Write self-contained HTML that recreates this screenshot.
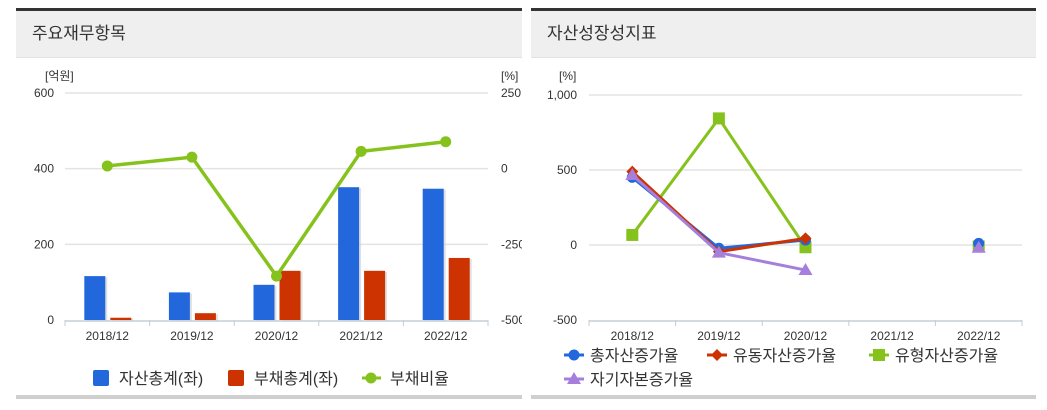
<!DOCTYPE html>
<html><head><meta charset="utf-8">
<style>
body{margin:0;width:1047px;height:410px;background:#fff;overflow:hidden;font-family:"Liberation Sans","Noto Sans CJK KR",sans-serif;}
.panel{position:absolute;top:8px;height:391px;overflow:hidden;}
.bar{position:absolute;left:0;right:0;top:0;height:3px;background:#333;}
.hdr{position:absolute;left:0;right:0;top:3px;height:46px;background:#efefef;border-bottom:1px solid #e2e2e2;font-size:17px;color:#333;line-height:46px;padding-left:16px;}
.foot{position:absolute;left:0;right:0;bottom:0;height:4px;background:#cfcfcf;}
svg{position:absolute;left:0;top:0;}
</style></head><body>
<div class="panel" style="left:16px;width:506px;">
  <div class="bar"></div>
  <div class="hdr">주요재무항목</div>
  <div class="foot"></div>
</div>
<div class="panel" style="left:531px;width:505px;">
  <div class="bar"></div>
  <div class="hdr">자산성장성지표</div>
  <div class="foot"></div>
</div>
<svg id="c1" width="522" height="410"></svg>
<svg id="c2" width="1047" height="410"></svg>
<script>
const cats = ["2018/12","2019/12","2020/12","2021/12","2022/12"];
const assets = [116,73,93,351,347];
const debts = [6,18,130,130,164];
const debtRatio = [9,38,-355,57,89];
const leftTicks = [0,200,400,600];
const rightTicks = [-500,-250,0,250];
const totalGrowth = [451,-22,33,null,11];
const currentGrowth = [489,-44,44,null,null];
const tangibleGrowth = [67,844,-15,null,-10];
const equityGrowth = [467,-51,-167,null,-18];
const growthTicks = [-500,0,500,1000];
const growthTickLabels = ["-500","0","500","1,000"];

const NS="http://www.w3.org/2000/svg";
function mk(svg,tag,attrs,name,text){const e=document.createElementNS(NS,tag);for(const k in attrs)e.setAttribute(k,attrs[k]);


if(text!==undefined)e.textContent=text;svg.appendChild(e);return e;}

// chart 1
const s1=document.getElementById('c1');
const x0=65,x1=488,yTop=93,yBot=320;
const band=(x1-x0)/cats.length;
const cx=i=>x0+band*(i+0.5);
const yL=v=>yBot-(v-0)/(600-0)*(yBot-yTop);
const yR=v=>yBot-(v+500)/(750)*(yBot-yTop);
leftTicks.forEach(t=>{
 if(t>0) mk(s1,'line',{x1:x0,x2:x1,y1:yL(t),y2:yL(t),stroke:'#e3e3e3','stroke-width':1.5},'gridline');
 mk(s1,'text',{x:54,y:yL(t)+4,'text-anchor':'end','font-size':12,fill:'#333'},'left-tick-label',String(t));
});
rightTicks.forEach(t=>{mk(s1,'text',{x:501,y:yR(t)+4,'font-size':12,fill:'#333'},'right-tick-label',String(t));});
mk(s1,'text',{x:45,y:80,'font-size':12,fill:'#333'},'left-axis-unit','[억원]');
mk(s1,'text',{x:501,y:80,'font-size':12,fill:'#333'},'right-axis-unit','[%]');
mk(s1,'line',{x1:x0,x2:x1,y1:yBot+1,y2:yBot+1,stroke:'#c5cdd8','stroke-width':1.5},'x-axis-line');
for(let i=0;i<=cats.length;i++) mk(s1,'line',{x1:x0+band*i,x2:x0+band*i,y1:yBot,y2:yBot+6,stroke:'#c5cdd8'},'x-tick');
cats.forEach((c,i)=>{
 mk(s1,'text',{x:cx(i),y:340,'text-anchor':'middle','font-size':12,fill:'#333'},'x-tick-label',c);
 mk(s1,'rect',{x:cx(i)-23+2,y:yL(assets[i])+1,width:21,height:yBot-yL(assets[i]),fill:'#ccc',opacity:.6},'bar-shadow');
 mk(s1,'rect',{x:cx(i)-23,y:yL(assets[i]),width:21,height:yBot-yL(assets[i]),fill:'#2268dc'},'asset-bar-'+c);
 mk(s1,'rect',{x:cx(i)+3+2,y:yL(debts[i])+1,width:21,height:yBot-yL(debts[i]),fill:'#ccc',opacity:.6},'bar-shadow');
 mk(s1,'rect',{x:cx(i)+3,y:yL(debts[i]),width:21,height:yBot-yL(debts[i]),fill:'#cc3300'},'debt-bar-'+c);
});
mk(s1,'polyline',{points:debtRatio.map((v,i)=>cx(i)+','+yR(v)).join(' '),fill:'none',stroke:'#86c21c','stroke-width':3.5},'debt-ratio-line');
debtRatio.forEach((v,i)=>mk(s1,'circle',{cx:cx(i),cy:yR(v),r:5.5,fill:'#86c21c'},'debt-ratio-point'));
mk(s1,'rect',{x:93,y:370,width:16,height:16,rx:2,fill:'#2268dc'},'legend-asset-swatch');
mk(s1,'text',{x:119,y:384,'font-size':16,fill:'#333'},'legend-asset','자산총계(좌)');
mk(s1,'rect',{x:228,y:370,width:16,height:16,rx:2,fill:'#cc3300'},'legend-debt-swatch');
mk(s1,'text',{x:254,y:384,'font-size':16,fill:'#333'},'legend-debt','부채총계(좌)');
mk(s1,'line',{x1:362,x2:381,y1:378,y2:378,stroke:'#86c21c','stroke-width':3},'legend-ratio-line');
mk(s1,'circle',{cx:371,cy:378,r:5.5,fill:'#86c21c'},'legend-ratio-marker');
mk(s1,'text',{x:390,y:384,'font-size':16,fill:'#333'},'legend-ratio','부채비율');

// chart 2
const s2=document.getElementById('c2');
const gx0=589,gx1=1022,gTop=95,gBot=320;
const gb=(gx1-gx0)/cats.length;
const gx=i=>gx0+gb*(i+0.5);
const gy=v=>gBot-(v+500)/1500*(gBot-gTop);
growthTicks.forEach((t,k)=>{
 if(t>-500) mk(s2,'line',{x1:gx0,x2:gx1,y1:gy(t),y2:gy(t),stroke:'#e3e3e3','stroke-width':1.5},'gridline');
 mk(s2,'text',{x:577,y:gy(t)+4,'text-anchor':'end','font-size':12,fill:'#333'},'y-tick-label',growthTickLabels[k]);
});
mk(s2,'text',{x:559,y:80,'font-size':12,fill:'#333'},'y-axis-unit','[%]');
mk(s2,'line',{x1:gx0,x2:gx1,y1:gBot+1,y2:gBot+1,stroke:'#c5cdd8','stroke-width':1.5},'x-axis-line');
for(let i=0;i<=cats.length;i++) mk(s2,'line',{x1:gx0+gb*i,x2:gx0+gb*i,y1:gBot,y2:gBot+6,stroke:'#c5cdd8'},'x-tick');
cats.forEach((c,i)=>mk(s2,'text',{x:gx(i),y:340,'text-anchor':'middle','font-size':12,fill:'#333'},'x-tick-label',c));
function marker(shape,x,y,col,name){
 if(shape==='circle') mk(s2,'circle',{cx:x,cy:y,r:5.5,fill:col},name);
 else if(shape==='diamond') mk(s2,'polygon',{points:`${x},${y-6} ${x+6},${y} ${x},${y+6} ${x-6},${y}`,fill:col},name);
 else if(shape==='square') mk(s2,'rect',{x:x-6,y:y-6,width:12,height:12,fill:col},name);
 else mk(s2,'polygon',{points:`${x},${y-7} ${x+7},${y+5} ${x-7},${y+5}`,fill:col},name);
}
function series(vals,col,shape,name){
 let seg=[];const segs=[];
 vals.forEach((v,i)=>{if(v===null){if(seg.length)segs.push(seg);seg=[];}else seg.push(gx(i)+','+gy(v));});
 if(seg.length)segs.push(seg);
 segs.forEach(s=>{if(s.length>1)mk(s2,'polyline',{points:s.join(' '),fill:'none',stroke:col,'stroke-width':3},name+'-line');});
 vals.forEach((v,i)=>{if(v!==null)marker(shape,gx(i),gy(v),col,name+'-point');});
}
series(tangibleGrowth,'#86c21c','square','tangible-asset-growth');
series(totalGrowth,'#2268dc','circle','total-asset-growth');
series(currentGrowth,'#cc3300','diamond','current-asset-growth');
series(equityGrowth,'#a57fdc','triangle','equity-growth');
const leg=[[564,355,'#2268dc','circle','총자산증가율'],[707,355,'#cc3300','diamond','유동자산증가율'],[869,355,'#86c21c','square','유형자산증가율'],[564,379,'#a57fdc','triangle','자기자본증가율']];
leg.forEach(l=>{
 mk(s2,'line',{x1:l[0],x2:l[0]+20,y1:l[1],y2:l[1],stroke:l[2],'stroke-width':3},'legend-line');
 marker(l[3],l[0]+10,l[1],l[2],'legend-marker');
 mk(s2,'text',{x:l[0]+26,y:l[1]+6,'font-size':16,fill:'#333'},'legend-entry',l[4]);
});
</script>
</body></html>
